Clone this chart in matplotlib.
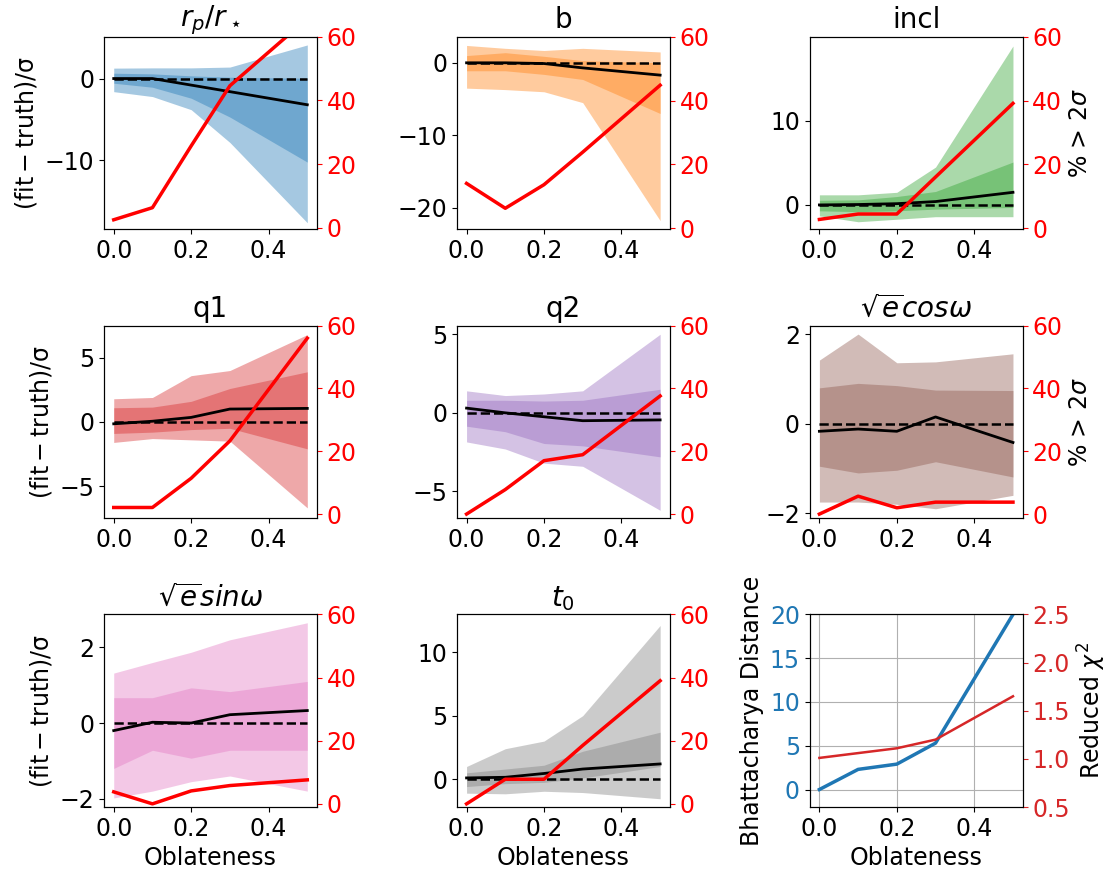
import numpy as np
import matplotlib.pyplot as plt

plt.rcParams['font.size'] = 17

oblateness = [0.0, 0.1, 0.2, 0.3, 0.5]

titles = [r'$r_p/r_\star$', 'b', 'incl', 'q1', 'q2',
          r'$\sqrt{e}cos\omega$', r'$\sqrt{e}sin\omega$', r'$t_0$']
colors = ['tab:blue', 'tab:orange', 'tab:green', 'tab:red', 'tab:purple',
          'tab:brown', 'tab:pink', 'tab:gray']

# mediana (fit - truth)/sigma
median = [
    [0.0, 0.0, -0.8, -1.6, -3.2],
    [0.0, 0.0, -0.1, -0.7, -1.7],
    [0.0, 0.05, 0.15, 0.4, 1.5],
    [-0.15, 0.05, 0.35, 1.0, 1.05],
    [0.3, 0.0, -0.25, -0.5, -0.45],
    [-0.17, -0.12, -0.17, 0.15, -0.42],
    [-0.2, 0.02, 0.0, 0.22, 0.33],
    [0.1, 0.15, 0.45, 0.8, 1.2],
]
# pasmo 1 sigma
lo1 = [
    [-0.57, -1.06, -2.4, -4.7, -10.2],
    [-1.1, -1.1, -1.6, -2.3, -7.0],
    [-0.7, -0.8, -0.7, -0.5, -0.3],
    [-0.9, -0.8, -0.6, -0.5, -2.1],
    [-0.85, -1.2, -1.95, -2.1, -2.8],
    [-0.95, -1.1, -1.04, -0.85, -1.19],
    [-1.2, -0.72, -0.93, -0.72, -0.72],
    [-0.58, -0.35, -0.25, 0.1, 1.0],
]
hi1 = [
    [0.65, 0.57, 0.33, 0.16, 0.04],
    [1.0, 1.4, 0.9, 0.3, 0.0],
    [0.55, 0.6, 1.0, 1.6, 5.1],
    [1.1, 1.15, 1.6, 2.6, 3.9],
    [0.8, 0.8, 0.75, 0.8, 1.5],
    [0.8, 0.9, 0.85, 0.75, 0.74],
    [0.67, 0.67, 0.93, 0.83, 1.1],
    [0.5, 0.8, 1.1, 2.2, 3.7],
]
# pasmo 2 sigma
lo2 = [
    [-1.6, -2.2, -3.8, -7.8, -17.6],
    [-3.5, -3.7, -4.0, -5.5, -21.8],
    [-1.3, -2.0, -1.7, -1.4, -1.4],
    [-1.6, -1.3, -1.4, -1.5, -6.7],
    [-1.85, -2.3, -3.2, -3.4, -6.2],
    [-1.75, -1.75, -1.8, -1.9, -1.6],
    [-1.98, -1.8, -1.55, -1.4, -1.8],
    [-1.1, -1.15, -0.95, -1.05, -1.54],
]
hi2 = [
    [1.27, 1.3, 1.3, 1.4, 4.1],
    [2.4, 2.0, 1.7, 2.0, 1.5],
    [1.2, 1.2, 1.5, 4.5, 18.9],
    [1.8, 1.9, 3.6, 4.0, 6.8],
    [1.4, 1.1, 1.2, 1.4, 5.0],
    [1.42, 2.0, 1.36, 1.38, 1.56],
    [1.32, 1.6, 1.87, 2.2, 2.65],
    [1.0, 2.4, 3.0, 5.0, 12.1],
]
# % > 2 sigma
pct = [
    [2.5, 6.3, 25.7, 44.6, 65.7],
    [14.0, 6.2, 13.6, 23.8, 44.8],
    [2.7, 4.4, 4.4, 16.0, 39.1],
    [2.1, 2.1, 11.4, 23.3, 56.0],
    [0.0, 7.8, 17.0, 18.9, 37.6],
    [0.0, 5.7, 2.0, 3.8, 3.8],
    [3.8, 0.0, 4.1, 5.8, 7.6],
    [0.0, 7.8, 7.8, 18.5, 39.0],
]

bhattacharya = [0.0, 2.3, 2.9, 5.3, 20.0]
chi2_red = [1.01, 1.06, 1.11, 1.2, 1.65]

ylims = [(-18.4, 5.1), (-23.0, 3.6), (-2.9, 20.0), (-7.5, 7.5),
         (-6.7, 5.55), (-2.11, 2.19), (-2.22, 2.87), (-2.19, 12.97)]
yticks = [[-10, 0], [-20, -10, 0], [0, 10], [-5, 0, 5],
          [-5, 0, 5], [-2, 0, 2], [-2, 0, 2], [0, 5, 10]]
ylims_pct = [(-0.5, 60), (-0.4, 60), (-0.4, 60), (-1.3, 60),
             (-1.3, 60), (-1.3, 60), (-1.0, 60), (-1.0, 60)]

fig, axes = plt.subplots(3, 3, figsize=(11.14, 8.75), dpi=100)
fig.subplots_adjust(left=0.0934, right=0.918, top=0.958, bottom=0.0777,
                    wspace=0.657, hspace=0.5)

for i in range(8):
    ax = axes.flat[i]
    c = colors[i]
    ax.fill_between(oblateness, lo2[i], hi2[i], color=c, alpha=0.4, lw=0)
    ax.fill_between(oblateness, lo1[i], hi1[i], color=c, alpha=0.4, lw=0)
    ax.plot(oblateness, median[i], color='black', lw=2)
    ax.plot([oblateness[0], oblateness[-1]], [0, 0], 'k--', lw=1.8)
    ax.set_ylim(ylims[i])
    ax.set_yticks(yticks[i])
    ax.set_title(titles[i], fontsize=20)
    ax.set_xticks([0.0, 0.2, 0.4])
    ax2 = ax.twinx()
    ax2.plot(oblateness, pct[i], color='red', lw=2.5)
    ax2.set_ylim(ylims_pct[i])
    ax2.set_yticks([0, 20, 40, 60])
    ax2.tick_params(axis='y', colors='red')
    if i % 3 == 0:
        ax.set_ylabel(r'$\rm (fit-truth)/\sigma$')
    if i % 3 == 2:
        ax2.set_ylabel(r'% > 2$\sigma$')
    if i >= 6:
        ax.set_xlabel('Oblateness')

ax = axes.flat[8]
ax.plot(oblateness, bhattacharya, color='tab:blue', lw=2.5)
ax.set_ylim(-2, 20)
ax.set_yticks([0, 5, 10, 15, 20])
ax.set_xticks([0.0, 0.2, 0.4])
ax.set_ylabel('Bhattacharya Distance')
ax.set_xlabel('Oblateness')
ax.tick_params(axis='y', labelcolor='tab:blue')
ax.grid(True)
ax2 = ax.twinx()
ax2.plot(oblateness, chi2_red, color='tab:red', lw=1.8)
ax2.set_ylim(0.5, 2.5)
ax2.set_ylabel(r'Reduced $\chi^2$')
ax2.tick_params(axis='y', colors='tab:red')

plt.savefig('out.png')
